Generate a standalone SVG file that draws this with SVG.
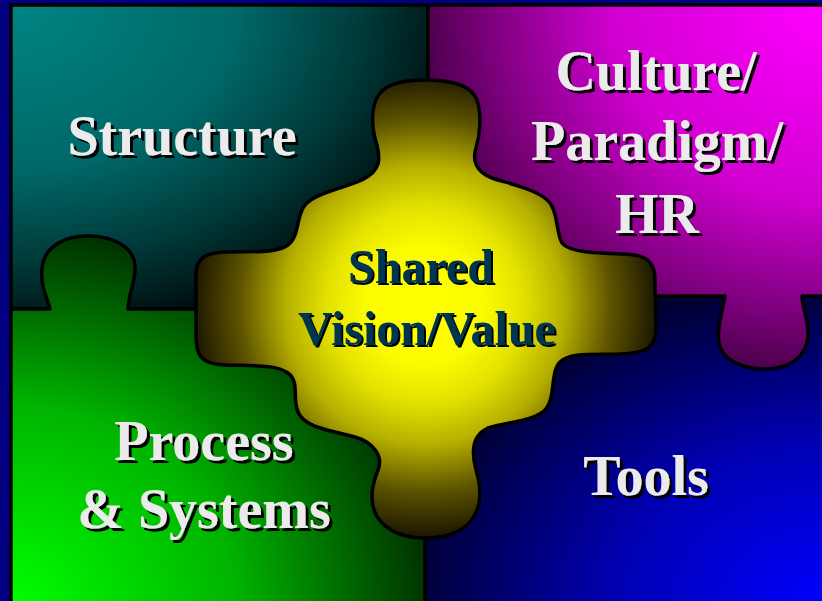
<svg xmlns="http://www.w3.org/2000/svg" width="822" height="601" viewBox="0 0 822 601">
  <defs>
    <radialGradient id="gTeal" cx="0" cy="0" r="1.08" gradientUnits="objectBoundingBox">
      <stop offset="0" stop-color="#008484"/>
      <stop offset="0.5" stop-color="#006868"/>
      <stop offset="0.78" stop-color="#003a3a"/>
      <stop offset="1" stop-color="#000f0f"/>
    </radialGradient>
    <radialGradient id="gMagenta" cx="1" cy="0" r="1.08" gradientUnits="objectBoundingBox">
      <stop offset="0" stop-color="#ff00ff"/>
      <stop offset="0.5" stop-color="#d000d0"/>
      <stop offset="0.8" stop-color="#780078"/>
      <stop offset="1" stop-color="#380038"/>
    </radialGradient>
    <radialGradient id="gGreen" cx="0" cy="1" r="1.08" gradientUnits="objectBoundingBox">
      <stop offset="0" stop-color="#00ff00"/>
      <stop offset="0.5" stop-color="#00b400"/>
      <stop offset="0.8" stop-color="#005a00"/>
      <stop offset="1" stop-color="#002000"/>
    </radialGradient>
    <radialGradient id="gBlue" cx="1" cy="1" r="1.08" gradientUnits="objectBoundingBox">
      <stop offset="0" stop-color="#0000ff"/>
      <stop offset="0.5" stop-color="#0000b0"/>
      <stop offset="0.8" stop-color="#000060"/>
      <stop offset="1" stop-color="#000028"/>
    </radialGradient>
    <radialGradient id="gYellow" cx="425" cy="305" r="232" gradientUnits="userSpaceOnUse">
      <stop offset="0" stop-color="#ffff00"/>
      <stop offset="0.25" stop-color="#fcfc00"/>
      <stop offset="0.42" stop-color="#e4e200"/>
      <stop offset="0.6" stop-color="#b6b000"/>
      <stop offset="0.8" stop-color="#5e5400"/>
      <stop offset="1" stop-color="#1c1600"/>
    </radialGradient>
    <!-- hard black drop shadow behind lettering -->
    <filter id="drop3" x="-10%" y="-20%" width="120%" height="150%">
      <feFlood flood-color="#000"/>
      <feComposite in2="SourceAlpha" operator="in"/>
      <feOffset dx="3" dy="3" result="sh"/>
      <feMerge><feMergeNode in="sh"/><feMergeNode in="SourceGraphic"/></feMerge>
    </filter>
    <filter id="drop2" x="-10%" y="-20%" width="120%" height="150%">
      <feFlood flood-color="#000"/>
      <feComposite in2="SourceAlpha" operator="in"/>
      <feOffset dx="2" dy="2" result="sh"/>
      <feMerge><feMergeNode in="sh"/><feMergeNode in="SourceGraphic"/></feMerge>
    </filter>
    <style>
      .piece { stroke: #000; stroke-width: 3.5; stroke-linejoin: round; }
      .lbl { font-family: "Liberation Serif", "Times New Roman", serif; font-weight: bold; text-anchor: middle; }
      .big { font-size: 56px; fill: #ebebeb; filter: url(#drop3); }
      .mid { font-size: 48px; fill: #033550; filter: url(#drop2); }
    </style>
  </defs>

  <!-- slide background -->
  <rect x="0" y="0" width="822" height="601" fill="#000080"/>

  <g id="structure">
    <rect class="piece" x="11" y="5" width="417" height="304" fill="url(#gTeal)"/>
    <text class="lbl big" x="182" y="155">Structure</text>
  </g>

  <g id="tools">
    <rect class="piece" x="425" y="296" width="402" height="310" fill="url(#gBlue)"/>
    <text class="lbl big" x="646" y="495">Tools</text>
  </g>

  <g id="process-systems">
    <path class="piece" fill="url(#gGreen)"
          d="M11,309 H50 C47,297 40,285 42,268 C44,248 62,236 88,236 C115,236 134,248 135,266 C136,282 128,295 128,309 H425 V606 H11 Z"/>
    <text class="lbl big" x="204" y="460">Process</text>
    <text class="lbl big" x="204" y="528">&amp; Systems</text>
  </g>

  <g id="culture-paradigm-hr">
    <path class="piece" fill="url(#gMagenta)"
          d="M428,5 H827 V296 H802 C802,308 809,320 808,337 C806,357 790,369 765,369 C742,369 722,360 719,343 C716,325 724,308 725,296 H428 Z"/>
    <text class="lbl big" x="656" y="90">Culture/</text>
    <text class="lbl big" x="657" y="160">Paradigm/</text>
    <text class="lbl big" x="657" y="233">HR</text>
  </g>

  <g id="shared-vision-value">
    <path class="piece" fill="url(#gYellow)"
          d="M425,80 C455,80 472,86 477,100 C482,115 480,135 476,148 C472,160 476,172 492,178 C510,184 540,190 550,203 C558,213 556,232 562,243 C570,253 600,253 625,254 C645,255 655,260 655,280 L656,330 C656,348 645,353 620,354 C595,355 570,352 560,362 C550,372 556,398 545,410 C535,421 505,422 488,428 C470,436 472,455 476,470 C482,490 482,510 468,524 C455,536 440,538 425,538 C405,538 388,532 378,518 C368,503 372,485 378,470 C384,455 372,442 355,437 C330,430 305,428 298,412 C292,398 300,382 288,373 C276,364 250,366 225,365 C200,364 196,355 196,335 L196,275 C196,258 205,253 225,252 C250,251 275,254 288,245 C300,236 296,215 305,205 C315,193 345,188 362,180 C382,170 380,158 377,145 C372,130 370,110 378,96 C385,84 405,80 425,80 Z"/>
    <text class="lbl mid" x="421" y="283">Shared</text>
    <text class="lbl mid" x="427" y="345">Vision/Value</text>
  </g>
</svg>
